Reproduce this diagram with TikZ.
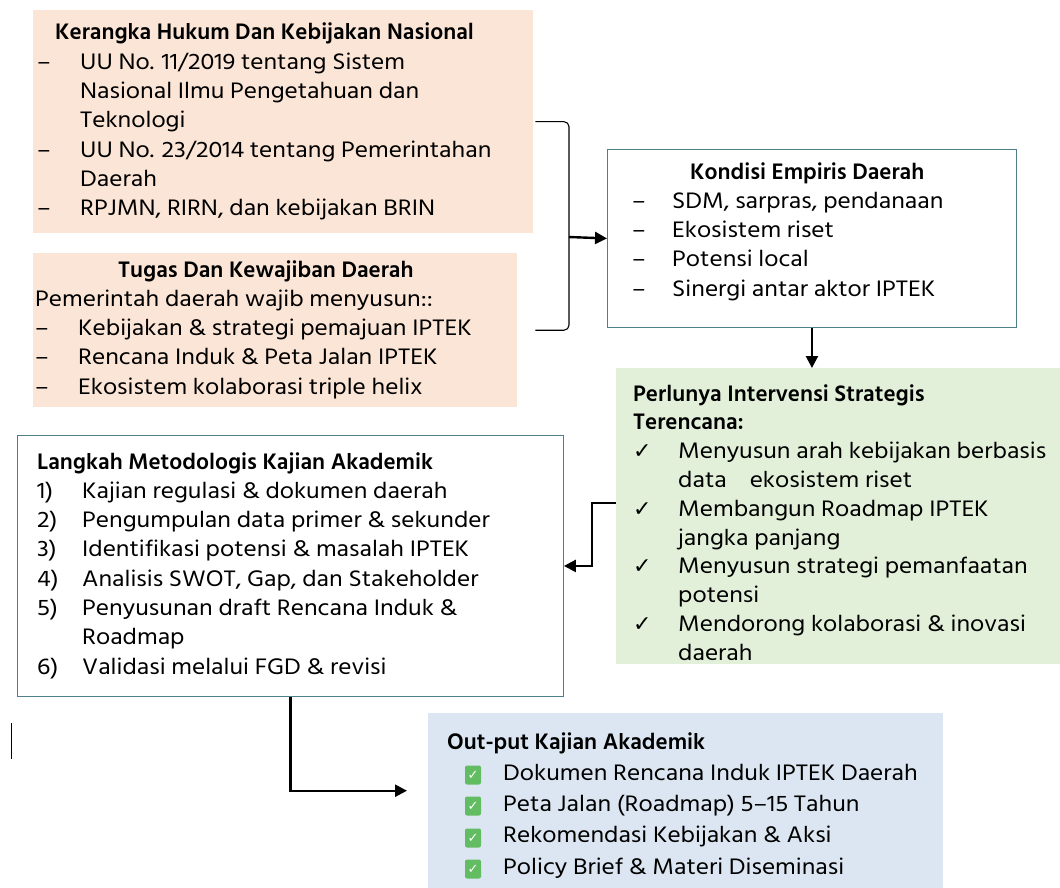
\documentclass[tikz,border=0pt]{standalone}
\usepackage{fontspec}
\setmainfont{Hind Siliguri}[FakeStretch=1.1]
\newfontfamily\headfont{Hind Siliguri}
\newfontfamily\symfont{DejaVu Sans}
\usepackage{tikz}
\usetikzlibrary{arrows.meta,positioning}

\definecolor{peach}{HTML}{FBE5D6}
\definecolor{mint}{HTML}{E2F0D9}
\definecolor{skyblue}{HTML}{DCE6F2}
\definecolor{boxline}{HTML}{4F7F86}
\definecolor{okgreen}{HTML}{62BD62}

\newlength\itmw
\setlength\itmw{43pt}
\newcommand\itm[2]{\makebox[\itmw][l]{#1}#2\par}
\newcommand\cnt[1]{\hspace*{\itmw}#1\par}
\newcommand\hd[1]{{\headfont\bfseries #1}}
\newcommand\ck{{\symfont\fontsize{22}{22}\selectfont ✓}}

\tikzset{
	fillbox/.style={fill=#1, draw=none, inner sep=0pt, anchor=north west},
	linebox/.style={fill=white, draw=boxline, line width=0.9pt, inner sep=0pt, anchor=north west},
	txt/.style={anchor=base west, inner sep=0pt, font=\fontsize{23}{29.3}\selectfont},
	conn/.style={line width=2.4pt, -{Triangle[length=12pt,width=12pt]}},
	brace/.style={line width=1.1pt, rounded corners=5pt},
	okbox/.style={fill=okgreen, rounded corners=2pt, minimum width=16pt, minimum height=19pt, inner sep=0pt, text=white, font=\symfont\fontsize{13}{13}\selectfont}
}

\begin{document}
\begin{tikzpicture}[x=1pt,y=-1pt]
\useasboundingbox (0,0) rectangle (1060,888);

% boxes
\node[fillbox=peach, minimum width=500pt, minimum height=223pt] (kerangka) at (33,10) {};
\node[fillbox=peach, minimum width=484pt, minimum height=154pt] (tugas) at (33,253) {};
\node[linebox, minimum width=409pt, minimum height=178pt] (kondisi) at (607,149) {};
\node[fillbox=mint, minimum width=444pt, minimum height=296pt] (perlu) at (616,368) {};
\node[linebox, minimum width=546pt, minimum height=261pt] (langkah) at (17,435) {};
\node[fillbox=skyblue, minimum width=515pt, minimum height=175pt] (output) at (428,713) {};

% texts
\node[txt] (kerangka-t) at (37,40) {\begin{minipage}[t]{490pt}
\hspace*{18pt}\hd{Kerangka Hukum Dan Kebijakan Nasional}\par
\itm{–}{UU No. 11/2019 tentang Sistem}
\cnt{Nasional Ilmu Pengetahuan dan}
\cnt{Teknologi}
\itm{–}{UU No. 23/2014 tentang Pemerintahan}
\cnt{Daerah}
\itm{–}{RPJMN, RIRN, dan kebijakan BRIN}
\end{minipage}};

\node[txt] (tugas-t) at (35,277) {\begin{minipage}[t]{480pt}
\hspace*{83pt}\hd{Tugas Dan Kewajiban Daerah}\par
Pemerintah daerah wajib menyusun::\par
\itm{–}{Kebijakan \& strategi pemajuan IPTEK}
\itm{–}{Rencana Induk \& Peta Jalan IPTEK}
\itm{–}{Ekosistem kolaborasi triple helix}
\end{minipage}};

\node[txt] (kondisi-t) at (632,179) {\begin{minipage}[t]{380pt}
\setlength\itmw{40pt}
\hspace*{58pt}\hd{Kondisi Empiris Daerah}\par
\itm{–}{SDM, sarpras, pendanaan}
\itm{–}{Ekosistem riset}
\itm{–}{Potensi local}
\itm{–}{Sinergi antar aktor IPTEK}
\end{minipage}};

\node[txt] (perlu-t) at (633,401) {\begin{minipage}[t]{425pt}
\setlength\itmw{45pt}\fontsize{23}{28.8}\selectfont
\hd{Perlunya Intervensi Strategis}\par
\hd{Terencana:}\par
\itm{\ck}{Menyusun arah kebijakan berbasis}
\cnt{data\quad ekosistem riset}
\itm{\ck}{Membangun Roadmap IPTEK}
\cnt{jangka panjang}
\itm{\ck}{Menyusun strategi pemanfaatan}
\cnt{potensi}
\itm{\ck}{Mendorong kolaborasi \& inovasi}
\cnt{daerah}
\end{minipage}};

\node[txt] (langkah-t) at (37,469) {\begin{minipage}[t]{520pt}
\setlength\itmw{45pt}
\hd{Langkah Metodologis Kajian Akademik}\par
\itm{1)}{Kajian regulasi \& dokumen daerah}
\itm{2)}{Pengumpulan data primer \& sekunder}
\itm{3)}{Identifikasi potensi \& masalah IPTEK}
\itm{4)}{Analisis SWOT, Gap, dan Stakeholder}
\itm{5)}{Penyusunan draft Rencana Induk \&}
\cnt{Roadmap}
\itm{6)}{Validasi melalui FGD \& revisi}
\end{minipage}};

\node[txt] (output-t) at (447,749) {\begin{minipage}[t]{490pt}
\fontsize{23}{31.3}\selectfont
\hd{Out-put Kajian Akademik}\par
\hspace*{56pt}Dokumen Rencana Induk IPTEK Daerah\par
\hspace*{56pt}Peta Jalan (Roadmap) 5–15 Tahun\par
\hspace*{56pt}Rekomendasi Kebijakan \& Aksi\par
\hspace*{56pt}Policy Brief \& Materi Diseminasi\par
\end{minipage}};

\foreach \yy [count=\i] in {775,806,838,869}
	\node[okbox] (ok\i) at (473,\yy) {✓};

% connectors
\coordinate (brk) at (569,237);
\draw[brace] ([xshift=2pt]kerangka.east) -| (brk) |- ([xshift=18pt]tugas.east);
\draw[conn] (brk) -- (kondisi.west);
\draw[conn] (kondisi.south) -- (kondisi.south |- perlu.north);
\draw[conn] ([yshift=13pt]perlu.west) -- ++(-24,0) |- (langkah.east);
\draw[conn] (langkah.south) |- ([xshift=-21pt,yshift=10pt]output.west);

% stray mark
\draw[line width=1pt] (11,723) -- (11,759);
\end{tikzpicture}
\end{document}
